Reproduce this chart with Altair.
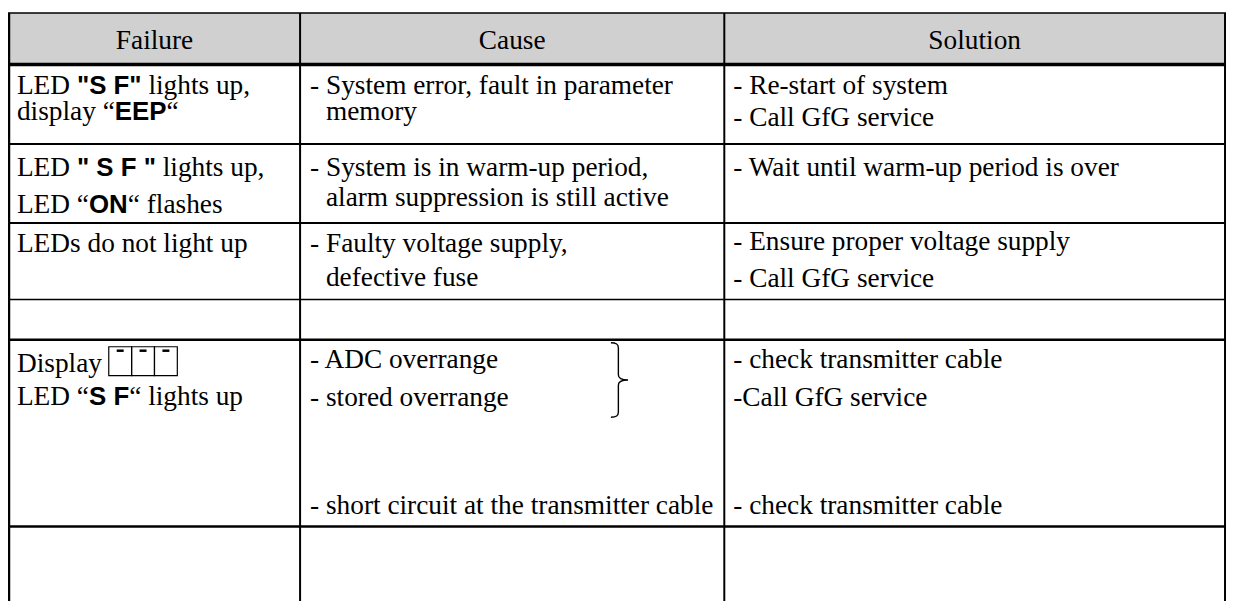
import altair as alt
import pandas as pd

# ---------------- table content ----------------
header = ["Failure", "Cause", "Solution"]

# Failure column: each line is a list of (text, bold) runs
failure_runs = [
    [("LED ", False), ('"S F"', True), (" lights up,", False)],
    [("display \u201c", False), ("EEP", True), ("\u201c", False)],
    [("LED ", False), ('" S F "', True), (" lights up,", False)],
    [("LED \u201c", False), ("ON", True), ("\u201c flashes", False)],
    [("LEDs do not light up", False)],
    [("Display", False)],
    [("LED \u201c", False), ("S F", True), ("\u201c lights up", False)],
]
failure_base = [93, 119, 175, 212, 252, 372, 406]

cause_text = [
    "- System error, fault in parameter", "memory",
    "- System is in warm-up period,", "alarm suppression is still active",
    "- Faulty voltage supply,", "defective fuse",
    "- ADC overrange", "- stored overrange",
    "- short circuit at the transmitter cable",
]
cause_indent = [0, 1, 0, 1, 0, 1, 0, 0, 0]
cause_base = [93, 119, 175, 205, 252, 286, 368, 407, 515]

solution_text = [
    "- Re-start of system", "- Call GfG service",
    "- Wait until warm-up period is over",
    "- Ensure proper voltage supply", "- Call GfG service",
    "- check transmitter cable", "-Call GfG service",
    "- check transmitter cable",
]
solution_base = [93, 125, 175, 250, 287, 368, 407, 515]

display_cells = ["\u203e", "\u203e", "\u203e"]   # three segment cells after "Display"

# ---------------- layout ----------------
col_edges = [9, 302, 729, 1233]
col_width_line = [2.5, 2, 2, 2]
row_edges = [11, 63, 143, 222.5, 299.5, 340, 528]
row_width_line = [1.5, 3.5, 2, 2, 1.5, 2.5, 2.5]
PAD = 9
SERIF = "Liberation Serif"
SANS = "Liberation Sans"
SERIF_SIZE = 27.5
BOLD_SIZE = 26
HEADER_BASE = 47
GRAY = "#d0d0d0"

SERIF_W = {'L': 611, 'E': 611, 'D': 722, ' ': 250, '\u201c': 444, 'd': 500, 'i': 278,
           's': 389, 'p': 500, 'l': 278, 'a': 444, 'y': 500, '"': 408, '-': 333}
BOLD_W = {'"': 474, 'S': 667, ' ': 278, 'F': 611, 'E': 667, 'P': 667, 'O': 778, 'N': 722}


def run_width(s, bold):
    table, size = (BOLD_W, BOLD_SIZE) if bold else (SERIF_W, SERIF_SIZE)
    return sum(table.get(c, 500) for c in s) * size / 1000.0


# ---------------- build tables ----------------
serif_rows, bold_rows = [], []
x_start = col_edges[0] + PAD - 1
for runs, base in zip(failure_runs, failure_base):
    x = x_start
    for txt, bold in runs:
        lead = len(txt) - len(txt.lstrip(" "))
        x_run = x + run_width(" " * lead, bold)
        (bold_rows if bold else serif_rows).append({"t": txt.strip(" "), "x": x_run, "y": base})
        x += run_width(txt, bold)

indent = run_width("- ", False)
for txt, ind, base in zip(cause_text, cause_indent, cause_base):
    serif_rows.append({"t": txt, "x": col_edges[1] + 10 + (indent if ind else 0), "y": base})
for txt, base in zip(solution_text, solution_base):
    serif_rows.append({"t": txt, "x": col_edges[2] + PAD, "y": base})

header_df = pd.DataFrame({
    "t": header,
    "x": [(col_edges[i] + col_edges[i + 1]) / 2 for i in range(3)],
    "y": [HEADER_BASE] * 3,
})
serif_df = pd.DataFrame(serif_rows)
bold_df = pd.DataFrame(bold_rows)

hlines = pd.DataFrame({"x": [8] * len(row_edges), "x2": [1234] * len(row_edges),
                       "y": row_edges, "w": row_width_line})
vlines = pd.DataFrame({"x": col_edges, "y": [row_edges[0]] * 4, "y2": [603] * 4,
                       "w": col_width_line})
head_bg = pd.DataFrame({"x": [col_edges[0]], "x2": [col_edges[-1]],
                        "y": [row_edges[0]], "y2": [row_edges[1]]})

# display cells after the word "Display"
disp_x0 = x_start + run_width("Display ", False)
cell_w = 23
cells = pd.DataFrame({
    "c": display_cells,
    "x": [disp_x0 + i * cell_w for i in range(3)],
    "x2": [disp_x0 + (i + 1) * cell_w for i in range(3)],
    "y": [347] * 3, "y2": [376] * 3,
})
dashes = pd.DataFrame({
    "x": [disp_x0 + (i + 0.5) * cell_w - 3.5 for i in range(3)],
    "x2": [disp_x0 + (i + 0.5) * cell_w + 3.5 for i in range(3)],
    "y": [351] * 3,
})
brace = pd.DataFrame({"x": [623.5], "y": [380.5]})
BRACE_PATH = ("M -0.23 -1 C -0.08 -1 -0.03 -0.96 -0.03 -0.86 L -0.03 -0.14 "
              "C -0.03 -0.05 0.05 0 0.23 0 C 0.05 0 -0.03 0.05 -0.03 0.14 "
              "L -0.03 0.86 C -0.03 0.96 -0.08 1 -0.23 1")

# ---------------- chart ----------------
W, H = 1227, 595
xs = alt.Scale(domain=[8, 8 + W], nice=False, zero=False)
ys = alt.Scale(domain=[8, 8 + H], nice=False, zero=False, reverse=True)
X = lambda f: alt.X(f, type="quantitative", scale=xs, axis=None)
Y = lambda f: alt.Y(f, type="quantitative", scale=ys, axis=None)

bg = alt.Chart(head_bg).mark_rect(color=GRAY).encode(
    x=X("x"), x2="x2", y=Y("y"), y2="y2")

h = alt.Chart(hlines).mark_rule(color="black").encode(
    x=X("x"), x2="x2", y=Y("y"), strokeWidth=alt.StrokeWidth("w:Q", scale=None))
v = alt.Chart(vlines).mark_rule(color="black").encode(
    x=X("x"), y=Y("y"), y2="y2", strokeWidth=alt.StrokeWidth("w:Q", scale=None))

cell_layer = alt.Chart(cells).mark_rect(fillOpacity=0, stroke="black", strokeWidth=1.2).encode(
    x=X("x"), x2="x2", y=Y("y"), y2="y2")
dash_layer = alt.Chart(dashes).mark_rule(color="black", strokeWidth=2.5).encode(
    x=X("x"), x2="x2", y=Y("y"))

brace_layer = alt.Chart(brace).mark_point(
    shape=BRACE_PATH, size=5625, filled=False, stroke="black", strokeWidth=1.4, opacity=1
).encode(x=X("x"), y=Y("y"))

head_txt = alt.Chart(header_df).mark_text(
    font=SERIF, fontSize=SERIF_SIZE, align="center", baseline="alphabetic", color="black"
).encode(x=X("x"), y=Y("y"), text="t:N")

serif_txt = alt.Chart(serif_df).mark_text(
    font=SERIF, fontSize=SERIF_SIZE, align="left", baseline="alphabetic", color="black"
).encode(x=X("x"), y=Y("y"), text="t:N")

bold_txt = alt.Chart(bold_df).mark_text(
    font=SANS, fontSize=BOLD_SIZE, fontWeight="bold", align="left",
    baseline="alphabetic", color="black"
).encode(x=X("x"), y=Y("y"), text="t:N")

chart = alt.layer(
    bg, h, v, cell_layer, dash_layer, brace_layer, head_txt, serif_txt, bold_txt
).properties(
    width=W, height=H, padding=0, autosize=alt.AutoSizeParams(type="none"),
    background="white",
).configure_view(stroke=None)

chart.save("out.html", embed_options={"renderer": "svg", "actions": False})
